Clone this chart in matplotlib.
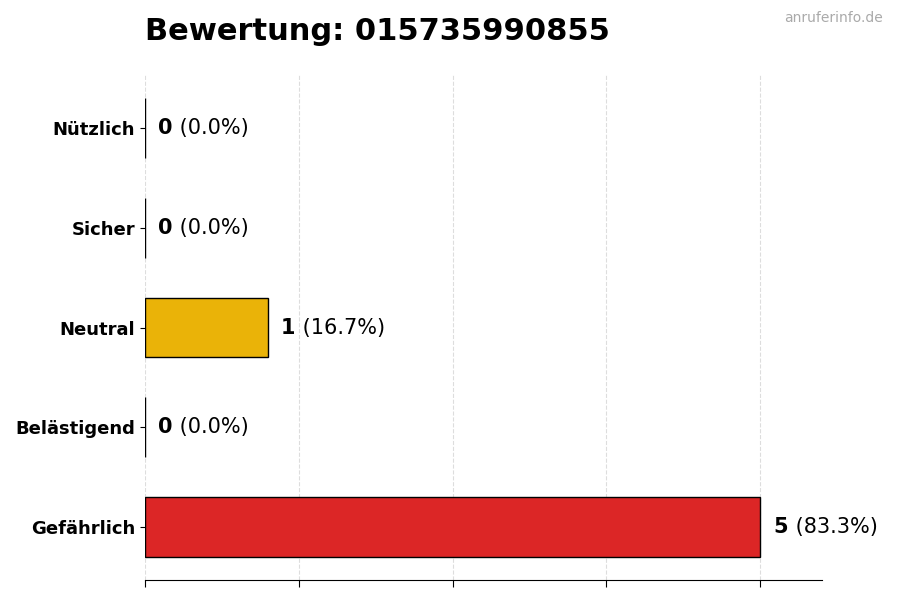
import matplotlib
matplotlib.use("Agg")
import matplotlib.pyplot as plt

categories = ["Nützlich", "Sicher", "Neutral", "Belästigend", "Gefährlich"]
values = [0, 0, 1, 0, 5]
colors = ["#22C55E", "#3B82F6", "#EAB308", "#F97316", "#DC2626"]
title = "Bewertung: 015735990855"
watermark = "anruferinfo.de"

total = sum(values)
fig = plt.figure(figsize=(9, 6), dpi=100)
ax = fig.add_axes([0.161, 0.0333, 0.752, 0.8417])

ypos = list(range(len(categories)))[::-1]
ax.barh(ypos, values, height=0.6, color=colors, edgecolor="black", linewidth=1, zorder=3)
ax.set_yticks(ypos)
ax.set_yticklabels(categories, fontsize=13, fontweight="bold")
ax.set_xlim(0, 5.5)
ax.set_xticks([0, 1.25, 2.5, 3.75, 5])
ax.set_xticklabels([])
ax.grid(axis="x", linestyle="--", color="#dddddd", linewidth=0.8, zorder=0)
for s in ["left", "top", "right"]:
    ax.spines[s].set_visible(False)
ax.tick_params(axis="x", length=5)

fig.canvas.draw()
renderer = fig.canvas.get_renderer()
for y, v in zip(ypos, values):
    pct = 100.0 * v / total if total else 0
    t1 = ax.annotate(f"{v}", xy=(v, y), xytext=(9.5, 0), textcoords="offset points",
                     ha="left", va="center", fontsize=15, fontweight="bold", zorder=4)
    bb = t1.get_window_extent(renderer)
    ax.annotate(f" ({pct:.1f}%)", xy=(v, y), xytext=(9.5 + bb.width * 72 / fig.dpi + 0.5, 0),
                textcoords="offset points", ha="left", va="center", fontsize=15, zorder=4)

fig.text(0.161, 0.947, title, fontsize=22, fontweight="bold", ha="left", va="center")
fig.text(0.981, 0.970, watermark, fontsize=10, color="#aaaaaa", ha="right", va="center")

fig.savefig("out.png", dpi=100)
